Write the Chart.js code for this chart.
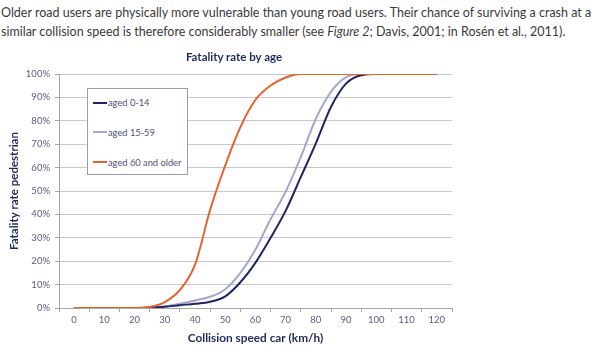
<!DOCTYPE html>
<html>
<head>
<meta charset="utf-8">
<script src="https://cdn.jsdelivr.net/npm/chart.js@4/dist/chart.umd.min.js"></script>
<style>
  body { margin: 0; width: 592px; height: 353px; background: #fff; position: relative; overflow: hidden; font-family: Lato, sans-serif; }
  #intro { position: absolute; left: 1px; top: 3px; font-size: 12.5px; line-height: 19px; color: #3a3a3a; white-space: nowrap; }
  #title { position: absolute; top: 50px; left: 134px; width: 200px; text-align: center; font-weight: bold; font-size: 11.5px; color: #1f2a5c; }
  #wrap { position: absolute; left: 0; top: 0; width: 592px; height: 353px; }
  #legend { position: absolute; left: 87px; top: 88px; width: 101px; height: 87px; border: 1px solid #9a9ab8; background: #fff; box-sizing: border-box; }
  .item { position: absolute; left: 5px; height: 12px; font-size: 9.3px; color: #505072; display: flex; align-items: center; white-space: nowrap; }
  .swatch { width: 14px; height: 2px; margin-right: 1px; }
</style>
</head>
<body>
<div id="intro">Older road users are physically more vulnerable than young road users. Their chance of surviving a crash at a<br>similar collision speed is therefore considerably smaller (see <i>Figure 2</i>; Davis, 2001; in Rosén et al., 2011).</div>
<div id="wrap"><canvas id="chart" width="592" height="353"></canvas></div>
<div id="title">Fatality rate by age</div>
<div id="legend"></div>
<script>
// collision speed in km/h, every 5
const speeds = [0, 5, 10, 15, 20, 25, 30, 35, 40, 45, 50, 55, 60, 65, 70, 75, 80, 85, 90, 95, 100, 105, 110, 115, 120];

// fatality rate in %
const aged0to14 = [0, 0, 0, 0, 0, 0.2, 0.5, 1.2, 1.8, 2.7, 5, 11, 19.4, 30, 41.6, 56, 70.5, 86, 96, 99.5, 100, 100, 100, 100, 100];
const aged15to59 = [0, 0, 0, 0, 0, 0.3, 0.7, 1.8, 3.2, 4.8, 8, 15, 25, 38, 49.8, 64.6, 81, 92.5, 98.7, 100, 100, 100, 100, 100, 100];
const aged60plus = [0, 0, 0, 0, 0, 0.4, 2.5, 7.7, 18.5, 42, 61, 77.3, 89, 95.1, 98.5, 100, 100, 100, 100, 100, 100, 100, 100, 100, 100];

const seriesNames = ['aged 0-14', 'aged 15-59', 'aged 60 and older'];
const seriesColors = ['#1f2466', '#a6a6cc', '#e8602c'];

const xLabels = [0, 10, 20, 30, 40, 50, 60, 70, 80, 90, 100, 110, 120];
const yTicks = [0, 10, 20, 30, 40, 50, 60, 70, 80, 90, 100];

const labelColor = '#5a5a82';
const titleColor = '#1f2a5c';

function toPoints(values) {
    return values.map((v, i) => ({ x: speeds[i], y: v }));
}

const ctx = document.getElementById('chart').getContext('2d');

const chart = new Chart(ctx, {
    type: 'line',
    data: {
        datasets: [
            { label: seriesNames[0], data: toPoints(aged0to14), borderColor: seriesColors[0], order: 1 },
            { label: seriesNames[1], data: toPoints(aged15to59), borderColor: seriesColors[1], order: 2 },
            { label: seriesNames[2], data: toPoints(aged60plus), borderColor: seriesColors[2], order: 0 }
        ]
    },
    options: {
        responsive: false,
        animation: false,
        layout: { padding: { left: 0, top: 74, right: 140, bottom: 0 } },
        elements: {
            line: { borderWidth: 2, cubicInterpolationMode: 'monotone', fill: false },
            point: { radius: 0 }
        },
        plugins: {
            legend: { display: false },
            tooltip: { enabled: false }
        },
        scales: {
            x: {
                type: 'linear',
                min: -5,
                max: 125,
                afterBuildTicks: (scale) => {
                    // tick marks sit between the labels, like the category axis in the original
                    scale.ticks = xLabels.concat([130]).map(v => ({ value: v - 5 }));
                },
                afterFit: (scale) => { scale.height = 45; },
                grid: { drawOnChartArea: false, drawTicks: true, tickLength: 4, tickColor: '#a6a6a6' },
                border: { display: true, color: '#a6a6a6' },
                ticks: {
                    autoSkip: false,
                    maxRotation: 0,
                    labelOffset: 15,
                    padding: 2,
                    color: labelColor,
                    font: { family: 'Lato', size: 9.5 },
                    callback: (value) => (value + 5 <= 120 ? String(value + 5) : '')
                },
                title: {
                    display: true,
                    text: 'Collision speed car (km/h)',
                    color: titleColor,
                    font: { family: 'Lato', size: 11.8, weight: 'bold', lineHeight: 1 },
                    padding: { top: 0, bottom: 9 }
                }
            },
            y: {
                min: 0,
                max: 100,
                afterBuildTicks: (scale) => {
                    scale.ticks = yTicks.map(v => ({ value: v }));
                },
                afterFit: (scale) => { scale.width = 59; },
                grid: { color: '#c8c8c8', tickLength: 4, tickColor: '#a6a6a6' },
                border: { display: true, color: '#a6a6a6' },
                ticks: {
                    padding: 5,
                    color: labelColor,
                    font: { family: 'Lato', size: 9.5 },
                    callback: (value) => value + '%'
                },
                title: {
                    display: true,
                    text: 'Fatality rate pedestrian',
                    color: titleColor,
                    font: { family: 'Lato', size: 11.5, weight: 'bold', lineHeight: 1 },
                    padding: { top: 9, bottom: 0 }
                }
            }
        }
    }
});

// legend box built from the chart's datasets
const legend = document.getElementById('legend');
const itemTops = [7.5, 37, 67];
chart.data.datasets.forEach((ds, i) => {
    const item = document.createElement('div');
    item.className = 'item';
    item.style.top = itemTops[i] + 'px';
    item.innerHTML = '<span class="swatch" style="background:' + ds.borderColor + '"></span>' + ds.label;
    legend.appendChild(item);
});
</script>
</body>
</html>
